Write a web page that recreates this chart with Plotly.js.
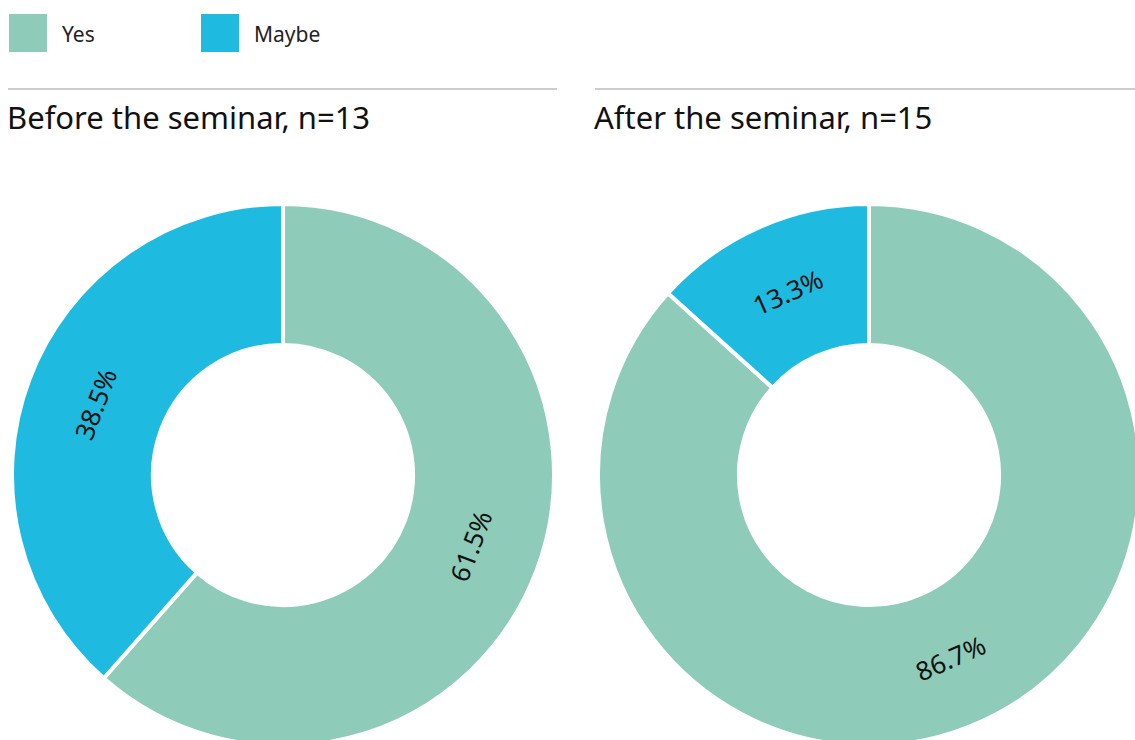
<!DOCTYPE html>
<html>
<head>
<meta charset="utf-8">
<script src="https://cdn.plot.ly/plotly-3.0.1.min.js"></script>
<style>
html,body{margin:0;padding:0;overflow:hidden;background:#fff;}
#chart{width:1140px;height:800px;}
</style>
</head>
<body>
<div id="chart"></div>
<script>
const categories = ["Yes", "Maybe"];
const colors = ["#8ecbb8", "#1fbadf"];
const beforeValues = [61.5, 38.5];
const afterValues = [86.7, 13.3];
const panelTitles = ["Before the seminar, n=13", "After the seminar, n=15"];

const W = 1140, H = 800;
const FONT = "Noto Sans, sans-serif";
const HOLE = 0.48;
const px = x => x / W;
const py = y => 1 - y / H;

// pie boxes in pixels: [left, right, top, bottom]
const boxes = [[12, 554, 204, 746], [598, 1140, 204, 746]];

function pieTrace(values, box) {
  return {
    type: "pie",
    labels: categories,
    values: values,
    sort: false,
    direction: "clockwise",
    rotation: 0,
    hole: HOLE,
    marker: {colors: colors, line: {color: "#ffffff", width: 4}},
    textinfo: "none",
    domain: {x: [px(box[0]), px(box[1])], y: [py(box[3]), py(box[2])]},
    showlegend: false,
    hoverinfo: "label+percent"
  };
}

const data = [
  pieTrace(beforeValues, boxes[0]),
  pieTrace(afterValues, boxes[1])
];

// tangential percentage labels at the middle of each slice, derived from the data
function sliceLabels(values, box) {
  const total = values.reduce((a, b) => a + b, 0);
  const cx = (box[0] + box[1]) / 2, cy = (box[2] + box[3]) / 2;
  const r = Math.min(box[1] - box[0], box[3] - box[2]) / 2;
  const rm = r * (1 + HOLE) / 2;
  let cum = 0;
  return values.map(v => {
    const theta = (cum + v / 2) / total * 360;
    cum += v;
    const rad = theta * Math.PI / 180;
    let a = theta % 180;
    if (a > 90) a -= 180;
    return {
      text: (v / total * 100).toFixed(1) + "%",
      xref: "paper", yref: "paper",
      x: px(cx + rm * Math.sin(rad)), y: py(cy - rm * Math.cos(rad)),
      xanchor: "center", yanchor: "middle",
      textangle: a, showarrow: false,
      font: {family: FONT, size: 26, color: "#111111"}
    };
  });
}

const shapes = [
  {type: "rect", xref: "paper", yref: "paper", x0: px(9), x1: px(47), y0: py(52), y1: py(14), fillcolor: colors[0], line: {width: 0}},
  {type: "rect", xref: "paper", yref: "paper", x0: px(201), x1: px(239), y0: py(52), y1: py(14), fillcolor: colors[1], line: {width: 0}},
  {type: "line", xref: "paper", yref: "paper", x0: px(8), x1: px(557), y0: py(89), y1: py(89), line: {color: "#bdbdbd", width: 1.5}},
  {type: "line", xref: "paper", yref: "paper", x0: px(595), x1: px(1140), y0: py(89), y1: py(89), line: {color: "#bdbdbd", width: 1.5}}
];

const annotations = [
  {text: categories[0], xref: "paper", yref: "paper", x: px(60), y: py(34), xanchor: "left", yanchor: "middle", showarrow: false, font: {family: FONT, size: 21, color: "#222222"}},
  {text: categories[1], xref: "paper", yref: "paper", x: px(252), y: py(34), xanchor: "left", yanchor: "middle", showarrow: false, font: {family: FONT, size: 21, color: "#222222"}},
  {text: panelTitles[0], xref: "paper", yref: "paper", x: px(5), y: py(117), xanchor: "left", yanchor: "middle", showarrow: false, font: {family: FONT, size: 31, color: "#111111"}},
  {text: panelTitles[1], xref: "paper", yref: "paper", x: px(592), y: py(117), xanchor: "left", yanchor: "middle", showarrow: false, font: {family: FONT, size: 31, color: "#111111"}}
].concat(sliceLabels(beforeValues, boxes[0]), sliceLabels(afterValues, boxes[1]));

const layout = {
  width: W, height: H,
  margin: {l: 0, r: 0, t: 0, b: 0},
  paper_bgcolor: "#ffffff",
  plot_bgcolor: "#ffffff",
  showlegend: false,
  shapes: shapes,
  annotations: annotations,
  font: {family: FONT}
};

Plotly.newPlot("chart", data, layout, {displayModeBar: false, staticPlot: true});
</script>
</body>
</html>
